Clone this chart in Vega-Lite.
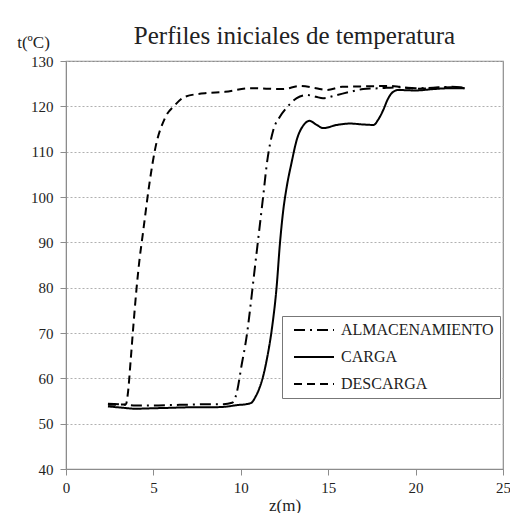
{
  "$schema": "https://vega.github.io/schema/vega-lite/v6.json",
  "width": 437,
  "height": 408,
  "autosize": "none",
  "padding": {"left": 66, "top": 61, "right": 7, "bottom": 44},
  "background": "white",
  "config": {
    "font": "Liberation Serif",
    "view": {"stroke": "#8c8c8c", "strokeWidth": 1.2},
    "axis": {
      "labelFont": "Liberation Serif",
      "titleFont": "Liberation Serif",
      "labelColor": "#222",
      "titleColor": "#222",
      "labelFontSize": 15,
      "titleFontSize": 17,
      "titleFontWeight": "normal",
      "domainColor": "#8c8c8c",
      "tickColor": "#8c8c8c",
      "gridColor": "#b0b0b0",
      "gridDash": [2, 2],
      "tickSize": 6
    }
  },
  "title": {
    "text": "Perfiles iniciales de temperatura",
    "font": "Liberation Serif",
    "fontSize": 25,
    "fontWeight": "normal",
    "color": "#222",
    "anchor": "middle",
    "frame": "group",
    "dx": 10,
    "offset": -16
  },
  "data": {
    "values": [
      {"s": "DESCARGA", "z": 2.4, "t": 54.2},
      {"s": "DESCARGA", "z": 3.0, "t": 54.2},
      {"s": "DESCARGA", "z": 3.43, "t": 54.3},
      {"s": "DESCARGA", "z": 3.55, "t": 57},
      {"s": "DESCARGA", "z": 3.7, "t": 64},
      {"s": "DESCARGA", "z": 3.85, "t": 71.4},
      {"s": "DESCARGA", "z": 4.04, "t": 80},
      {"s": "DESCARGA", "z": 4.2, "t": 86},
      {"s": "DESCARGA", "z": 4.4, "t": 92},
      {"s": "DESCARGA", "z": 4.8, "t": 103.7},
      {"s": "DESCARGA", "z": 5.09, "t": 110.4},
      {"s": "DESCARGA", "z": 5.66, "t": 117.4},
      {"s": "DESCARGA", "z": 6.24, "t": 120.3},
      {"s": "DESCARGA", "z": 6.8, "t": 122.1},
      {"s": "DESCARGA", "z": 7.95, "t": 122.9},
      {"s": "DESCARGA", "z": 9.1, "t": 123.2},
      {"s": "DESCARGA", "z": 10.5, "t": 124},
      {"s": "DESCARGA", "z": 12.4, "t": 123.8},
      {"s": "DESCARGA", "z": 13.4, "t": 124.5},
      {"s": "DESCARGA", "z": 14.3, "t": 124},
      {"s": "DESCARGA", "z": 14.9, "t": 123.6},
      {"s": "DESCARGA", "z": 15.8, "t": 124.3},
      {"s": "DESCARGA", "z": 17, "t": 124.4},
      {"s": "DESCARGA", "z": 18.5, "t": 124.5},
      {"s": "DESCARGA", "z": 19.1, "t": 124.3},
      {"s": "DESCARGA", "z": 20, "t": 123.9},
      {"s": "DESCARGA", "z": 21, "t": 124},
      {"s": "DESCARGA", "z": 22, "t": 124.2},
      {"s": "DESCARGA", "z": 22.8, "t": 124},
      {"s": "ALMACENAMIENTO", "z": 2.4, "t": 54.4},
      {"s": "ALMACENAMIENTO", "z": 3, "t": 54.3},
      {"s": "ALMACENAMIENTO", "z": 4, "t": 54.0},
      {"s": "ALMACENAMIENTO", "z": 5, "t": 54.0},
      {"s": "ALMACENAMIENTO", "z": 6, "t": 54.1},
      {"s": "ALMACENAMIENTO", "z": 7, "t": 54.2},
      {"s": "ALMACENAMIENTO", "z": 8, "t": 54.3},
      {"s": "ALMACENAMIENTO", "z": 9, "t": 54.3},
      {"s": "ALMACENAMIENTO", "z": 9.5, "t": 54.6},
      {"s": "ALMACENAMIENTO", "z": 9.76, "t": 56.7},
      {"s": "ALMACENAMIENTO", "z": 10.05, "t": 63},
      {"s": "ALMACENAMIENTO", "z": 10.34, "t": 69.4},
      {"s": "ALMACENAMIENTO", "z": 10.6, "t": 77.5},
      {"s": "ALMACENAMIENTO", "z": 10.81, "t": 84.6},
      {"s": "ALMACENAMIENTO", "z": 11.05, "t": 92.5},
      {"s": "ALMACENAMIENTO", "z": 11.29, "t": 100.5},
      {"s": "ALMACENAMIENTO", "z": 11.48, "t": 107},
      {"s": "ALMACENAMIENTO", "z": 11.86, "t": 114.8},
      {"s": "ALMACENAMIENTO", "z": 12.2, "t": 117.5},
      {"s": "ALMACENAMIENTO", "z": 12.6, "t": 119.6},
      {"s": "ALMACENAMIENTO", "z": 13.2, "t": 121.8},
      {"s": "ALMACENAMIENTO", "z": 13.77, "t": 122.5},
      {"s": "ALMACENAMIENTO", "z": 14.3, "t": 122.1},
      {"s": "ALMACENAMIENTO", "z": 14.7, "t": 121.8},
      {"s": "ALMACENAMIENTO", "z": 15.5, "t": 122.5},
      {"s": "ALMACENAMIENTO", "z": 16.25, "t": 123.2},
      {"s": "ALMACENAMIENTO", "z": 17, "t": 123.8},
      {"s": "ALMACENAMIENTO", "z": 18, "t": 124},
      {"s": "ALMACENAMIENTO", "z": 19, "t": 124.2},
      {"s": "ALMACENAMIENTO", "z": 20, "t": 124},
      {"s": "ALMACENAMIENTO", "z": 21, "t": 124.1},
      {"s": "ALMACENAMIENTO", "z": 22, "t": 124.3},
      {"s": "ALMACENAMIENTO", "z": 22.8, "t": 124.1},
      {"s": "CARGA", "z": 2.4, "t": 53.8},
      {"s": "CARGA", "z": 3, "t": 53.6},
      {"s": "CARGA", "z": 4, "t": 53.3},
      {"s": "CARGA", "z": 5, "t": 53.4},
      {"s": "CARGA", "z": 6, "t": 53.5},
      {"s": "CARGA", "z": 7, "t": 53.6},
      {"s": "CARGA", "z": 8, "t": 53.6},
      {"s": "CARGA", "z": 9, "t": 53.7},
      {"s": "CARGA", "z": 9.8, "t": 54.1},
      {"s": "CARGA", "z": 10.3, "t": 54.3},
      {"s": "CARGA", "z": 10.6, "t": 54.6},
      {"s": "CARGA", "z": 10.85, "t": 56},
      {"s": "CARGA", "z": 11.1, "t": 58.2},
      {"s": "CARGA", "z": 11.3, "t": 60.8},
      {"s": "CARGA", "z": 11.48, "t": 64},
      {"s": "CARGA", "z": 11.77, "t": 70.7},
      {"s": "CARGA", "z": 12.05, "t": 80.2},
      {"s": "CARGA", "z": 12.24, "t": 89.8},
      {"s": "CARGA", "z": 12.43, "t": 97.1},
      {"s": "CARGA", "z": 12.63, "t": 102.3},
      {"s": "CARGA", "z": 12.9, "t": 107.5},
      {"s": "CARGA", "z": 13.2, "t": 112.6},
      {"s": "CARGA", "z": 13.6, "t": 115.9},
      {"s": "CARGA", "z": 13.93, "t": 116.8},
      {"s": "CARGA", "z": 14.34, "t": 115.9},
      {"s": "CARGA", "z": 14.72, "t": 115.2},
      {"s": "CARGA", "z": 15.5, "t": 115.9},
      {"s": "CARGA", "z": 16.25, "t": 116.2},
      {"s": "CARGA", "z": 17, "t": 116},
      {"s": "CARGA", "z": 17.6, "t": 115.9},
      {"s": "CARGA", "z": 17.85, "t": 117},
      {"s": "CARGA", "z": 18.15, "t": 119.2},
      {"s": "CARGA", "z": 18.4, "t": 121.5},
      {"s": "CARGA", "z": 18.63, "t": 122.9},
      {"s": "CARGA", "z": 19, "t": 123.6},
      {"s": "CARGA", "z": 20, "t": 123.5},
      {"s": "CARGA", "z": 21, "t": 123.8},
      {"s": "CARGA", "z": 22, "t": 124},
      {"s": "CARGA", "z": 22.8, "t": 124}
    ]
  },
  "mark": {"type": "line", "color": "black", "strokeWidth": 2, "interpolate": "monotone"},
  "encoding": {
    "x": {
      "field": "z",
      "type": "quantitative",
      "scale": {"domain": [0, 25], "nice": false},
      "axis": {"values": [0, 5, 10, 15, 20, 25], "grid": false, "title": "z(m)", "titlePadding": 2, "labelPadding": 5, "labelFlush": false}
    },
    "y": {
      "field": "t",
      "type": "quantitative",
      "scale": {"domain": [40, 130], "nice": false, "zero": false},
      "axis": {"values": [40, 50, 60, 70, 80, 90, 100, 110, 120, 130], "title": "t(ºC)", "titleAngle": 0, "titleAlign": "center", "titleBaseline": "alphabetic", "titleX": -33, "titleY": -14, "labelPadding": 7}
    },
    "strokeDash": {
      "field": "s",
      "type": "nominal",
      "scale": {"domain": ["ALMACENAMIENTO", "CARGA", "DESCARGA"], "range": [[11, 5, 2, 5], [1, 0], [8, 5]]},
      "legend": {
        "title": null,
        "orient": "none",
        "legendX": 216,
        "legendY": 255,
        "padding": 6,
        "strokeColor": "#777",
        "fillColor": "white",
        "symbolType": "stroke",
        "symbolSize": 1600,
        "symbolStrokeWidth": 2,
        "symbolStrokeColor": "black",
        "symbolOffset": 5,
        "clipHeight": 16,
        "labelFont": "Liberation Serif",
        "labelFontSize": 16,
        "labelColor": "#222",
        "labelOffset": 6,
        "rowPadding": 11,
        "labelLimit": 300
      }
    }
  }
}
